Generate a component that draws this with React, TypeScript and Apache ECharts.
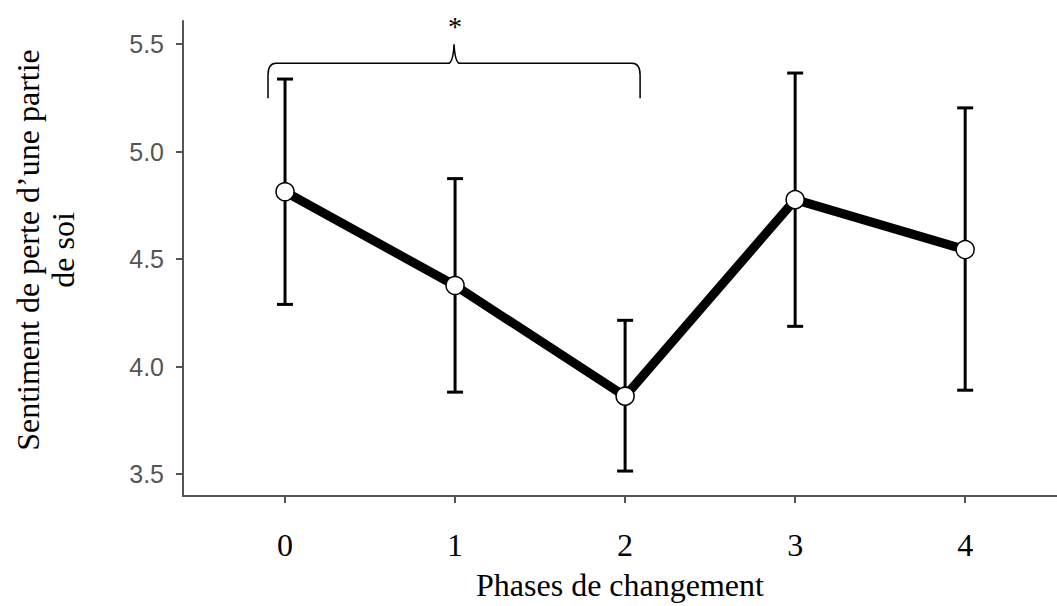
import React, { useEffect, useRef } from "react";
import * as echarts from "echarts";

const phases = [0, 1, 2, 3, 4];
const means = [4.813, 4.377, 3.862, 4.776, 4.544];
const lower = [4.289, 3.881, 3.514, 4.187, 3.89];
const upper = [5.337, 4.874, 4.215, 5.365, 5.203];
const yTicks = [3.5, 4.0, 4.5, 5.0, 5.5];
const bracket = { from: 0, to: 2, level: 5.41, label: "*" };

const SERIF = "'Liberation Serif', 'Times New Roman', serif";
const SANS = "'Liberation Sans', Arial, sans-serif";

export default function App() {
  const ref = useRef<HTMLDivElement>(null);
  useEffect(() => {
    if (!ref.current) return;
    document.body.style.margin = "0";
    document.body.style.overflow = "hidden";
    const chart = echarts.init(ref.current, null, { renderer: "svg" });
    const errData = phases.map((p, i) => [p, lower[i], upper[i]]);
    const option: any = {
      animation: false,
      backgroundColor: "#ffffff",
      grid: { left: 183, right: 0, top: 21, bottom: 109, containLabel: false },
      xAxis: {
        type: "value",
        min: -0.6,
        max: 4.54,
        name: "Phases de changement",
        nameLocation: "middle",
        nameGap: 73,
        nameTextStyle: { fontFamily: SERIF, fontSize: 32, color: "#000" },
        axisLine: { show: true, onZero: false, lineStyle: { color: "#555", width: 2 } },
        axisTick: { show: true, customValues: phases, length: 7, lineStyle: { color: "#555", width: 2 } },
        axisLabel: {
          customValues: phases,
          margin: 33,
          fontFamily: SERIF,
          fontSize: 32,
          color: "#000",
        },
        splitLine: { show: false },
      },
      yAxis: {
        type: "value",
        min: 3.398,
        max: 5.607,
        axisLine: { show: true, onZero: false, lineStyle: { color: "#555", width: 2 } },
        axisTick: { show: true, customValues: yTicks, length: 7, lineStyle: { color: "#555", width: 2 } },
        axisLabel: {
          customValues: yTicks,
          margin: 19,
          fontFamily: SANS,
          fontSize: 25,
          color: "#555",
          formatter: (v: number) => v.toFixed(1),
        },
        splitLine: { show: false },
      },
      graphic: [
        {
          type: "text",
          x: 45,
          y: 250,
          rotation: Math.PI / 2,
          style: {
            text: "Sentiment de perte d\u2019une partie\nde soi",
            font: `32px ${SERIF}`,
            fill: "#000",
            textAlign: "center",
            textVerticalAlign: "middle",
            lineHeight: 35,
          },
        },
      ],
      series: [
        {
          type: "custom",
          z: 2,
          data: errData,
          renderItem: (params: any, api: any) => {
            const x = api.value(0);
            const lo = api.coord([x, api.value(1)]);
            const hi = api.coord([x, api.value(2)]);
            const w = 8;
            const st = { stroke: "#000", lineWidth: 3 };
            return {
              type: "group",
              children: [
                { type: "line", shape: { x1: lo[0], y1: lo[1], x2: hi[0], y2: hi[1] }, style: st },
                { type: "line", shape: { x1: lo[0] - w, y1: lo[1], x2: lo[0] + w, y2: lo[1] }, style: st },
                { type: "line", shape: { x1: hi[0] - w, y1: hi[1], x2: hi[0] + w, y2: hi[1] }, style: st },
              ],
            };
          },
        },
        {
          type: "line",
          z: 3,
          data: phases.map((p, i) => [p, means[i]]),
          lineStyle: { color: "#000", width: 9 },
          symbol: "circle",
          symbolSize: 18,
          itemStyle: { color: "#fff", borderColor: "#000", borderWidth: 1.5 },
        },
        {
          type: "custom",
          z: 4,
          clip: false,
          data: [[bracket.from, bracket.to, bracket.level]],
          renderItem: (params: any, api: any) => {
            const a = api.coord([api.value(0), api.value(2)]);
            const b = api.coord([api.value(1), api.value(2)]);
            const L = a[0] - 17;
            const R = b[0] + 15;
            const y = a[1];
            const M = (L + R) / 2;
            const d = `M ${L} ${y + 35} L ${L} ${y + 12} Q ${L} ${y} ${L + 8} ${y} L ${M - 6} ${y} Q ${M - 1} ${y} ${M} ${y - 19} Q ${M + 1} ${y} ${M + 6} ${y} L ${R - 8} ${y} Q ${R} ${y} ${R} ${y + 12} L ${R} ${y + 35}`;
            return {
              type: "group",
              children: [
                { type: "path", shape: { pathData: d }, style: { stroke: "#000", lineWidth: 1.5, fill: "none" } },
                {
                  type: "text",
                  x: M + 1,
                  y: y - 37,
                  style: {
                    text: bracket.label,
                    font: `28px ${SERIF}`,
                    fill: "#000",
                    textAlign: "center",
                    textVerticalAlign: "middle",
                  },
                },
              ],
            };
          },
        },
      ],
    };
    chart.setOption(option);
    return () => chart.dispose();
  }, []);
  return (
    <div
      ref={ref}
      style={{ position: "absolute", left: 0, top: 0, width: 1057, height: 606, overflow: "hidden" }}
    />
  );
}
